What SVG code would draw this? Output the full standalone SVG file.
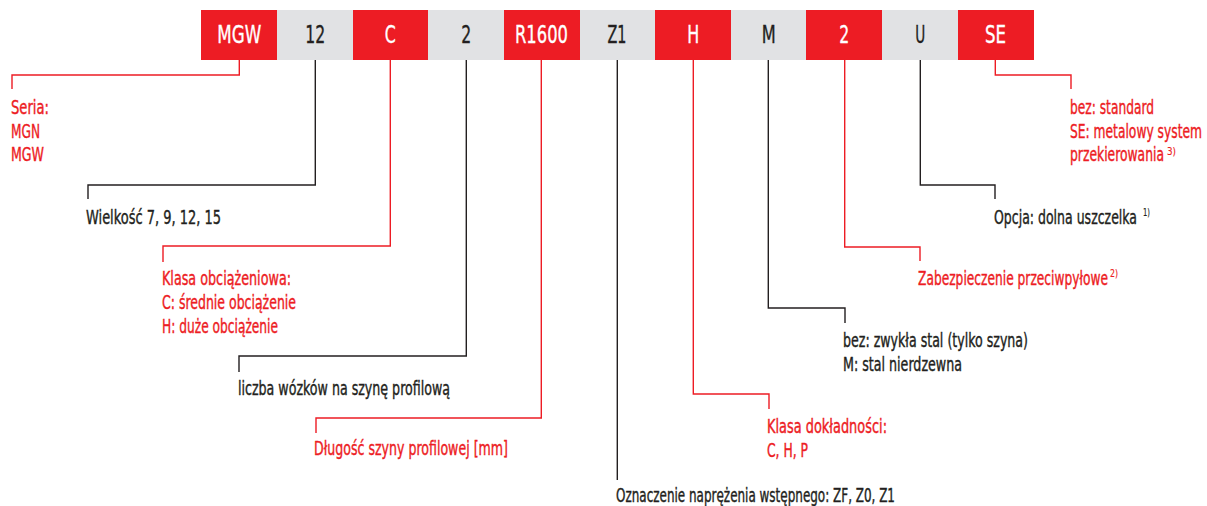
<svg xmlns="http://www.w3.org/2000/svg" width="1207" height="506" viewBox="0 0 1207 506">
<style>
.bg{fill:#ffffff}
.r{fill:#ED1C24}
.g{fill:#E1E2E4}
.bt{font-family:"DejaVu Sans Condensed","Liberation Sans Narrow","Liberation Sans",sans-serif;font-size:25px;text-anchor:middle}
.bw{fill:#ffffff;stroke:#ffffff;stroke-width:0.35}
.bd{fill:#231F20;stroke:#231F20;stroke-width:0.35}
.t{font-family:"DejaVu Sans Condensed","Liberation Sans Narrow","Liberation Sans",sans-serif;font-size:20px;stroke-width:0.4}
.sup{font-size:11px;stroke-width:0.15}
.tr{fill:#ED1C24;stroke:#ED1C24}
.tk{fill:#231F20;stroke:#231F20}
.cr{fill:none;stroke:#ED1C24;stroke-width:1.4}
.ck{fill:none;stroke:#231F20;stroke-width:1.4}
</style>
<rect class="bg" x="0" y="0" width="1207" height="506"/>
<g id="connectors">
<path class="cr" d="M239.3,60 V75 H12 V89"/>
<path class="ck" d="M315.3,60 V185 H88 V199"/>
<path class="cr" d="M390.3,60 V246 H163 V262"/>
<path class="ck" d="M466.3,60 V356 H239 V372"/>
<path class="cr" d="M541.3,60 V418 H316 V433"/>
<path class="ck" d="M617.3,60 V480"/>
<path class="cr" d="M693.3,60 V394 H769 V409"/>
<path class="ck" d="M768.3,60 V308 H845 V323"/>
<path class="cr" d="M844.7,60 V247 H920 V261"/>
<path class="ck" d="M920.3,60 V185 H995 V199"/>
<path class="cr" d="M995.3,60 V75 H1071 V89"/>
</g>
<g id="box-mgw"><rect class="r" x="201" y="10" width="76" height="50"/><text class="bt bw" x="239.3" y="43" textLength="44" lengthAdjust="spacingAndGlyphs">MGW</text></g>
<g id="box-12"><rect class="g" x="277" y="10" width="76" height="50"/><text class="bt bd" x="315.3" y="43" textLength="20" lengthAdjust="spacingAndGlyphs">12</text></g>
<g id="box-c"><rect class="r" x="353" y="10" width="75" height="50"/><text class="bt bw" x="390.3" y="43" textLength="11" lengthAdjust="spacingAndGlyphs">C</text></g>
<g id="box-2a"><rect class="g" x="428" y="10" width="76" height="50"/><text class="bt bd" x="466.3" y="43" textLength="10" lengthAdjust="spacingAndGlyphs">2</text></g>
<g id="box-r1600"><rect class="r" x="504" y="10" width="76" height="50"/><text class="bt bw" x="541.5" y="43" textLength="53" lengthAdjust="spacingAndGlyphs">R1600</text></g>
<g id="box-z1"><rect class="g" x="580" y="10" width="75" height="50"/><text class="bt bd" x="617" y="43" textLength="19" lengthAdjust="spacingAndGlyphs">Z1</text></g>
<g id="box-h"><rect class="r" x="655" y="10" width="76" height="50"/><text class="bt bw" x="693.3" y="43" textLength="12" lengthAdjust="spacingAndGlyphs">H</text></g>
<g id="box-m"><rect class="g" x="731" y="10" width="75" height="50"/><text class="bt bd" x="768.8" y="43" textLength="14" lengthAdjust="spacingAndGlyphs">M</text></g>
<g id="box-2b"><rect class="r" x="806" y="10" width="76" height="50"/><text class="bt bw" x="844.3" y="43" textLength="10" lengthAdjust="spacingAndGlyphs">2</text></g>
<g id="box-u"><rect class="g" x="882" y="10" width="76" height="50"/><text class="bt bd" x="920.3" y="43" textLength="10" lengthAdjust="spacingAndGlyphs">U</text></g>
<g id="box-se"><rect class="r" x="958" y="10" width="76" height="50"/><text class="bt bw" x="995.5" y="43" textLength="21" lengthAdjust="spacingAndGlyphs">SE</text></g>

<g id="label-seria">
<text class="t tr" x="11" y="114" textLength="38" lengthAdjust="spacingAndGlyphs">Seria:</text>
<text class="t tr" x="11" y="138" textLength="29" lengthAdjust="spacingAndGlyphs">MGN</text>
<text class="t tr" x="11" y="161" textLength="33" lengthAdjust="spacingAndGlyphs">MGW</text>
</g>
<g id="label-wielkosc">
<text class="t tk" x="86" y="224" textLength="135" lengthAdjust="spacingAndGlyphs">Wielkość  7, 9, 12, 15</text>
</g>
<g id="label-klasa-obc">
<text class="t tr" x="162" y="285" textLength="129" lengthAdjust="spacingAndGlyphs">Klasa obciążeniowa:</text>
<text class="t tr" x="162" y="309" textLength="134" lengthAdjust="spacingAndGlyphs">C: średnie obciążenie</text>
<text class="t tr" x="162" y="333" textLength="116" lengthAdjust="spacingAndGlyphs">H: duże obciążenie</text>
</g>
<g id="label-liczba">
<text class="t tk" x="238" y="395" textLength="212" lengthAdjust="spacingAndGlyphs">liczba wózków na szynę profilową</text>
</g>
<g id="label-dlugosc">
<text class="t tr" x="314" y="455" textLength="194" lengthAdjust="spacingAndGlyphs">Długość szyny profilowej [mm]</text>
</g>
<g id="label-oznaczenie">
<text class="t tk" x="616" y="502" textLength="279" lengthAdjust="spacingAndGlyphs">Oznaczenie naprężenia wstępnego: ZF, Z0, Z1</text>
</g>
<g id="label-klasa-dokl">
<text class="t tr" x="767" y="433" textLength="120" lengthAdjust="spacingAndGlyphs">Klasa dokładności:</text>
<text class="t tr" x="767" y="457" textLength="41" lengthAdjust="spacingAndGlyphs">C, H, P</text>
</g>
<g id="label-stal">
<text class="t tk" x="843" y="347" textLength="185" lengthAdjust="spacingAndGlyphs">bez: zwykła stal (tylko szyna)</text>
<text class="t tk" x="843" y="371" textLength="119" lengthAdjust="spacingAndGlyphs">M: stal nierdzewna</text>
</g>
<g id="label-zabezp">
<text class="t tr" x="918" y="285"><tspan textLength="190" lengthAdjust="spacingAndGlyphs">Zabezpieczenie przeciwpyłowe</tspan><tspan class="sup" x="1110" y="277" textLength="8" lengthAdjust="spacingAndGlyphs">2)</tspan></text>
</g>
<g id="label-opcja">
<text class="t tk" x="994" y="224"><tspan textLength="143" lengthAdjust="spacingAndGlyphs">Opcja: dolna uszczelka</tspan><tspan class="sup" x="1143" y="216" textLength="7" lengthAdjust="spacingAndGlyphs">1)</tspan></text>
</g>
<g id="label-se">
<text class="t tr" x="1070" y="114" textLength="84" lengthAdjust="spacingAndGlyphs">bez: standard</text>
<text class="t tr" x="1070" y="138" textLength="132" lengthAdjust="spacingAndGlyphs">SE: metalowy system</text>
<text class="t tr" x="1070" y="161"><tspan textLength="94" lengthAdjust="spacingAndGlyphs">przekierowania</tspan><tspan class="sup" x="1167" y="155" textLength="9" lengthAdjust="spacingAndGlyphs">3)</tspan></text>
</g>
</svg>
